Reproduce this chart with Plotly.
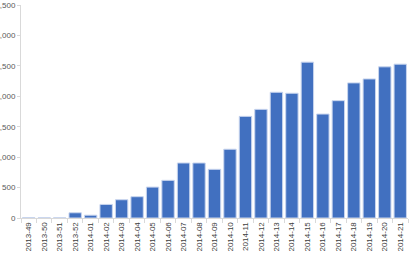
import plotly.graph_objects as go

weeks = ["2013-49", "2013-50", "2013-51", "2013-52", "2014-01", "2014-02", "2014-03",
         "2014-04", "2014-05", "2014-06", "2014-07", "2014-08", "2014-09", "2014-10",
         "2014-11", "2014-12", "2014-13", "2014-14", "2014-15", "2014-16", "2014-17",
         "2014-18", "2014-19", "2014-20", "2014-21"]
counts = [5, 3, 3, 86, 46, 223, 300, 350, 508, 619, 904, 904, 800, 1130,
          1670, 1785, 2066, 2050, 2561, 1708, 1928, 2220, 2285, 2484, 2528]
y_ticks = [0, 500, 1000, 1500, 2000, 2500, 3000, 3500]

fig = go.Figure(go.Bar(
    x=weeks, y=counts,
    marker=dict(color="#4170c0", line=dict(color="#c8d5ee", width=1)),
    width=0.8,
))

fig.update_layout(
    width=416, height=256,
    margin=dict(l=21, r=8, t=5, b=38),
    paper_bgcolor="white", plot_bgcolor="white",
    showlegend=False,
    font=dict(family="Liberation Sans", size=8, color="#404040"),
)
fig.update_xaxes(
    type="category", tickangle=-90, showline=True, linecolor="#d9d9d9", linewidth=1,
    ticks="outside", tickson="boundaries", ticklen=4, tickcolor="#d9d9d9",
    showgrid=False, automargin=False, tickfont=dict(size=8, color="#404040"),
)
fig.update_yaxes(
    range=[0, 3500], tickvals=y_ticks, tickformat=",d",
    showline=True, linecolor="#d9d9d9", linewidth=1,
    ticks="outside", ticklen=3, tickcolor="#d9d9d9",
    showgrid=False, zeroline=False, automargin=False,
    tickfont=dict(size=8, color="#595959"),
)

fig.write_html("out.html")
